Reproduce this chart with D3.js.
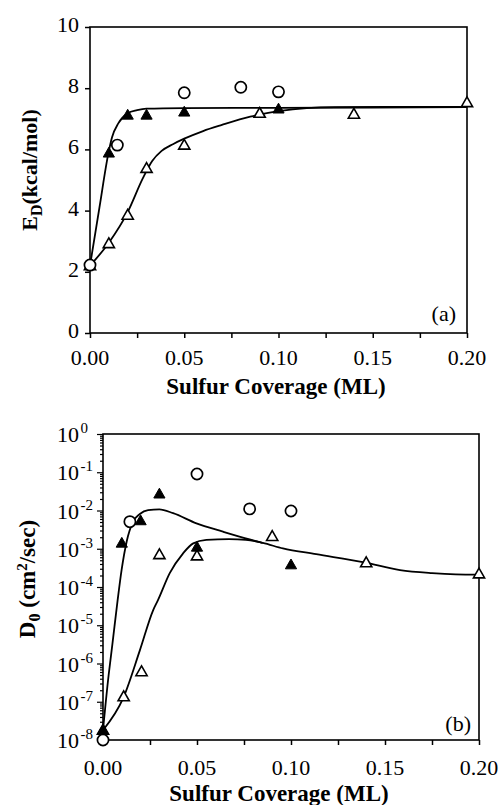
<!DOCTYPE html>
<html><head><meta charset="utf-8">
<script src="https://cdn.jsdelivr.net/npm/d3@7"></script>
<style>
body{margin:0;background:#fff}
svg{display:block}
</style>
</head><body>
<svg id="c" width="502" height="805"></svg>
<script>
// ---------- data ----------
const coverageMajor = [0, 0.05, 0.10, 0.15, 0.20];
const coverageMinor = [0.025, 0.075, 0.125, 0.175];
const coverageLabels = ["0.00", "0.05", "0.10", "0.15", "0.20"];
const edTicks = [0, 2, 4, 6, 8, 10];
const d0Exponents = [0, -1, -2, -3, -4, -5, -6, -7, -8];

// panel (a): activation energy E_D (kcal/mol) vs sulfur coverage (ML)
const edFilledTri = [[0.01, 5.88], [0.02, 7.12], [0.03, 7.12], [0.05, 7.22], [0.10, 7.32]];
const edOpenTri = [[0, 2.2], [0.01, 2.92], [0.02, 3.85], [0.03, 5.38], [0.05, 6.14], [0.09, 7.18], [0.14, 7.15], [0.20, 7.53]];
const edCircle = [[0, 2.22], [0.0145, 6.14], [0.05, 7.85], [0.08, 8.03], [0.10, 7.88]];
const edFitFast = [[0, 2.2], [0.005, 4.1], [0.01, 5.95], [0.0117, 6.4], [0.015, 6.85], [0.02, 7.18], [0.025, 7.28], [0.03, 7.33], [0.05, 7.35], [0.10, 7.36], [0.20, 7.38]];
const edFitSlow = [[0, 2.2], [0.01, 2.95], [0.02, 3.95], [0.028, 5.05], [0.033, 5.62], [0.038, 5.95], [0.044, 6.17], [0.05, 6.35], [0.06, 6.6], [0.07, 6.8], [0.085, 7.07], [0.10, 7.25], [0.115, 7.35], [0.13, 7.38], [0.20, 7.39]];

// panel (b): prefactor D0 (cm^2/sec) vs sulfur coverage (ML)
const d0FilledTri = [[0, 1.8e-8], [0.01, 1.4e-3], [0.02, 5.4e-3], [0.03, 2.7e-2], [0.05, 1.1e-3], [0.10, 3.8e-4]];
const d0OpenTri = [[0, 1.8e-8], [0.011, 1.35e-7], [0.0205, 6.1e-7], [0.03, 7e-4], [0.05, 6.5e-4], [0.09, 2.1e-3], [0.14, 4.3e-4], [0.20, 2.2e-4]];
const d0Circle = [[0, 1e-8], [0.0143, 5.1e-3], [0.05, 9e-2], [0.078, 1.1e-2], [0.10, 9.7e-3]];
const d0FitFast = [[0, 1.8e-8], [0.003, 5e-7], [0.005, 3.2e-6], [0.0078, 4.6e-5], [0.0099, 2.8e-4], [0.0126, 1.55e-3], [0.016, 5.1e-3], [0.0196, 8.1e-3], [0.024, 1.02e-2], [0.03, 1.07e-2], [0.0373, 8.5e-3], [0.0497, 4.6e-3], [0.0638, 2.8e-3], [0.078, 1.75e-3], [0.085, 1.42e-3]];
const d0FitSlow = [[0, 1.8e-8], [0.0108, 1.26e-7], [0.0196, 2.2e-6], [0.0267, 2.5e-5], [0.0293, 4.6e-5], [0.0355, 2.3e-4], [0.0426, 7.6e-4], [0.048, 1.38e-3], [0.055, 1.7e-3], [0.067, 1.78e-3], [0.076, 1.72e-3], [0.085, 1.42e-3], [0.0957, 1.02e-3], [0.1134, 7.2e-4], [0.139, 4.4e-4], [0.158, 2.75e-4], [0.175, 2.3e-4], [0.1876, 2.14e-4], [0.20, 2.1e-4]];

// ---------- drawing ----------
const svg = d3.select("#c");
const FONT = 22;
const TITLE = 23;
const FAM = "Liberation Serif";

const triPath = "M0,-5.8 L5.6,4 L-5.6,4 Z";

function txt(g) {
  return g.append("text").attr("font-family", FAM).attr("fill", "#000");
}

function drawMarkers(g, pts, x, y, kind) {
  const sel = g.append("g");
  pts.forEach(p => {
    const px = x(p[0]), py = y(p[1]);
    if (kind === "circle") {
      sel.append("circle").attr("cx", px).attr("cy", py).attr("r", 5.6)
        .attr("fill", "#fff").attr("stroke", "#000").attr("stroke-width", 1.7);
    } else {
      sel.append("path").attr("d", triPath).attr("transform", `translate(${px},${py})`)
        .attr("fill", kind === "filled" ? "#000" : "#fff")
        .attr("stroke", "#000").attr("stroke-width", kind === "filled" ? 1 : 1.6)
        .attr("stroke-linejoin", "miter");
    }
  });
}

function drawCurve(g, pts, x, y) {
  const line = d3.line().x(d => x(d[0])).y(d => y(d[1])).curve(d3.curveMonotoneX);
  g.append("path").attr("d", line(pts)).attr("fill", "none")
    .attr("stroke", "#000").attr("stroke-width", 1.8);
}

function xAxis(g, x, yPix, labelBase) {
  const ax = g.append("g").attr("transform", `translate(0,${yPix})`);
  ax.call(d3.axisBottom(x).tickValues(coverageMajor.concat(coverageMinor)).tickSize(5).tickSizeOuter(0).tickFormat(""));
  ax.select(".domain").remove();
  ax.selectAll(".tick line").attr("stroke", "#000").attr("stroke-width", 1.5);
  coverageMajor.forEach((v, i) => {
    txt(g).attr("x", x(v)).attr("y", labelBase).attr("text-anchor", "middle")
      .attr("font-size", FONT).text(coverageLabels[i]);
  });
}

// ===== Panel (a) =====
{
  const L = 90, R = 467, T = 27, B = 333;
  const x = d3.scaleLinear().domain([0, 0.2]).range([L, R]);
  const y = d3.scaleLinear().domain([0, 10]).range([B, T]);
  const g = svg.append("g");

  g.append("rect").attr("x", L).attr("y", T).attr("width", R - L).attr("height", B - T)
    .attr("fill", "none").attr("stroke", "#000").attr("stroke-width", 1.6);

  const ay = g.append("g").attr("transform", `translate(${L},0)`);
  ay.call(d3.axisLeft(y).tickValues(edTicks).tickSize(5).tickSizeOuter(0).tickFormat(""));
  ay.select(".domain").remove();
  ay.selectAll(".tick line").attr("stroke", "#000").attr("stroke-width", 1.5);
  edTicks.forEach(v => {
    txt(g).attr("x", 79).attr("y", y(v) + 5).attr("text-anchor", "end")
      .attr("font-size", FONT).text(String(v));
  });

  xAxis(g, x, B, 365);

  drawCurve(g, edFitFast, x, y);
  drawCurve(g, edFitSlow, x, y);
  drawMarkers(g, edOpenTri, x, y, "open");
  drawMarkers(g, edFilledTri, x, y, "filled");
  drawMarkers(g, edCircle, x, y, "circle");

  txt(g).attr("x", 456).attr("y", 321).attr("text-anchor", "end")
    .attr("font-size", FONT).text("(a)");

  txt(g).attr("x", 276).attr("y", 394).attr("text-anchor", "middle")
    .attr("font-size", TITLE).attr("font-weight", "bold").text("Sulfur Coverage (ML)");

  const t = txt(g).attr("transform", "translate(37,170) rotate(-90)")
    .attr("text-anchor", "middle").attr("font-size", FONT).attr("font-weight", "bold");
  t.append("tspan").text("E");
  t.append("tspan").attr("dy", 5).attr("font-size", 16).text("D");
  t.append("tspan").attr("dy", -5).text("(kcal/mol)");
}

// ===== Panel (b) =====
{
  const L = 103, R = 479, T = 434, B = 740;
  const x = d3.scaleLinear().domain([0, 0.2]).range([L, R]);
  const y = d3.scaleLog().domain([1e-8, 1]).range([B, T]);
  const g = svg.append("g");

  g.append("rect").attr("x", L).attr("y", T).attr("width", R - L).attr("height", B - T)
    .attr("fill", "none").attr("stroke", "#000").attr("stroke-width", 1.6);

  const majors = d0Exponents.map(e => Math.pow(10, e));
  const minors = [];
  d0Exponents.forEach(e => { if (e < 0) for (let k = 2; k <= 9; k++) minors.push(k * Math.pow(10, e)); });

  const ayMaj = g.append("g").attr("transform", `translate(${L},0)`);
  ayMaj.call(d3.axisLeft(y).tickValues(majors).tickSize(6).tickSizeOuter(0).tickFormat(""));
  ayMaj.select(".domain").remove();
  const ayMin = g.append("g").attr("transform", `translate(${L},0)`);
  ayMin.call(d3.axisLeft(y).tickValues(minors).tickSize(3).tickSizeOuter(0).tickFormat(""));
  ayMin.select(".domain").remove();
  g.selectAll(".tick line").attr("stroke", "#000").attr("stroke-width", 1.2);

  d0Exponents.forEach(e => {
    const t = txt(g).attr("x", 57).attr("y", y(Math.pow(10, e)) + 8)
      .attr("font-size", FONT);
    t.append("tspan").text("10");
    t.append("tspan").attr("dy", -9).attr("dx", 1.5).attr("font-size", 15).text(e === 0 ? "0" : "-" + (-e));
  });

  xAxis(g, x, B, 775);

  drawCurve(g, d0FitFast, x, y);
  drawCurve(g, d0FitSlow, x, y);
  drawMarkers(g, d0OpenTri, x, y, "open");
  drawMarkers(g, d0FilledTri, x, y, "filled");
  drawMarkers(g, d0Circle, x, y, "circle");

  txt(g).attr("x", 471).attr("y", 731).attr("text-anchor", "end")
    .attr("font-size", FONT).text("(b)");

  txt(g).attr("x", 279).attr("y", 801).attr("text-anchor", "middle")
    .attr("font-size", TITLE).attr("font-weight", "bold").text("Sulfur Coverage (ML)");

  const t = txt(g).attr("transform", "translate(35,579) rotate(-90)")
    .attr("text-anchor", "middle").attr("font-size", FONT + 1).attr("font-weight", "bold");
  t.append("tspan").text("D");
  t.append("tspan").attr("dy", 5).attr("font-size", 16).text("0");
  t.append("tspan").attr("dy", -5).text(" (cm");
  t.append("tspan").attr("dy", -8).attr("font-size", 15).text("2");
  t.append("tspan").attr("dy", 8).text("/sec)");
}
</script>
</body></html>
